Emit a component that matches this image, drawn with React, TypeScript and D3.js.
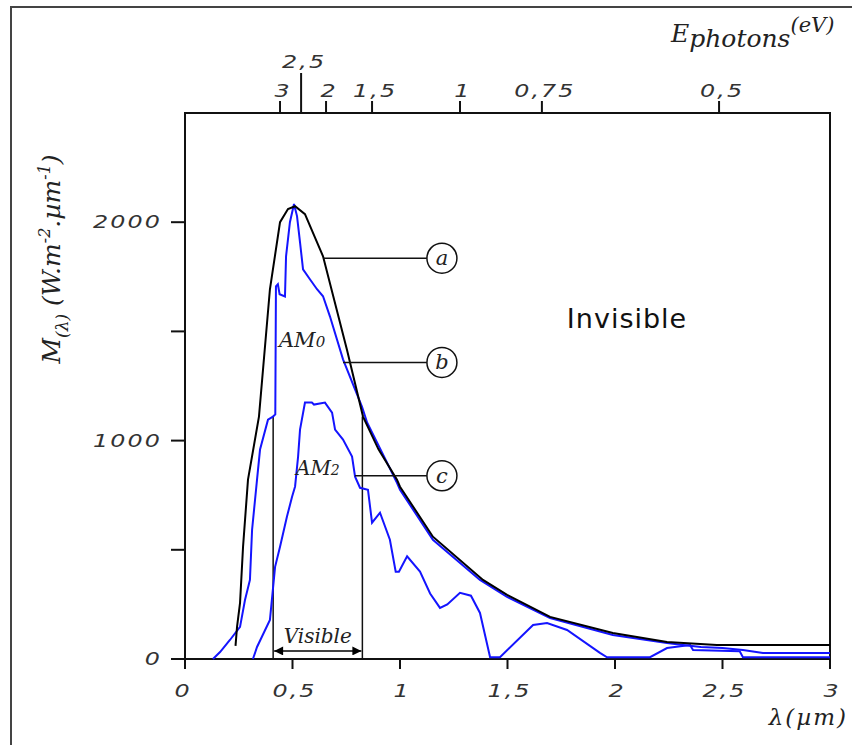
import React from "react";
import * as d3 from "d3";

// Curve (a): black body-like envelope
const lambdaA = [0.235, 0.242, 0.256, 0.27, 0.293, 0.344, 0.395, 0.442, 0.479, 0.512, 0.558, 0.642, 0.753, 0.828, 0.9, 0.986, 1.0, 1.153, 1.386, 1.498, 1.698, 1.99, 2.242, 2.474, 3.0];
const mA = [60, 147, 257, 514, 821, 1110, 1693, 2000, 2060, 2073, 2037, 1844, 1417, 1110, 960, 821, 789, 560, 362, 294, 193, 119, 78, 64, 64];

// Curve (b): AM0
const lambdaB = [0.13, 0.163, 0.209, 0.256, 0.279, 0.302, 0.312, 0.335, 0.349, 0.386, 0.409, 0.42, 0.423, 0.432, 0.44, 0.465, 0.47, 0.488, 0.507, 0.521, 0.535, 0.549, 0.581, 0.614, 0.642, 0.674, 0.735, 0.823, 0.847, 0.986, 1.0, 1.153, 1.372, 1.498, 1.698, 1.99, 2.242, 2.316, 2.4, 2.5, 2.595, 2.688, 3.0];
const mB = [0, 32, 87, 147, 270, 362, 592, 821, 959, 1096, 1110, 1120, 1706, 1716, 1670, 1660, 1844, 2000, 2083, 2028, 1908, 1784, 1739, 1693, 1661, 1569, 1372, 1156, 1083, 807, 775, 546, 362, 284, 188, 110, 73, 64, 55, 50, 41, 28, 28];

// Curve (c): AM2
const lambdaC = [0.316, 0.335, 0.395, 0.419, 0.442, 0.474, 0.498, 0.512, 0.526, 0.535, 0.558, 0.59, 0.6, 0.651, 0.684, 0.698, 0.735, 0.777, 0.791, 0.814, 0.851, 0.87, 0.907, 0.953, 0.98, 0.995, 1.033, 1.093, 1.14, 1.186, 1.22, 1.279, 1.33, 1.372, 1.419, 1.465, 1.619, 1.684, 1.777, 1.93, 1.963, 2.163, 2.242, 2.349, 2.363, 2.58, 2.595, 3.0];
const mC = [0, 55, 179, 422, 514, 651, 743, 790, 927, 1050, 1174, 1174, 1165, 1174, 1128, 1050, 1005, 927, 835, 784, 775, 624, 670, 546, 400, 400, 470, 400, 300, 234, 250, 303, 290, 211, 8, 8, 156, 165, 133, 28, 8, 8, 50, 64, 41, 35, 8, 8];

// Axes
const xTicks = [0, 0.5, 1, 1.5, 2, 2.5, 3];
const xTickLabels = ["0", "0,5", "1", "1,5", "2", "2,5", "3"];
const yTicks = [0, 500, 1000, 1500, 2000];
const yTickLabels = ["0", "", "1000", "", "2000"];
const energyLabels = ["3", "2,5", "2", "1,5", "1", "0,75", "0,5"];
const energyTickLambda = [0.442, 0.54, 0.656, 0.87, 1.279, 1.66, 2.484];

// Annotations
const visibleRange = [0.41, 0.825];
const visibleTop = 1110;
const calloutNames = ["a", "b", "c"];
const calloutFromLambda = [0.642, 0.735, 0.791];
const calloutM = [1835, 1358, 839];
const calloutCircleLambda = 1.195;

const tickFont: React.CSSProperties = {
  fontFamily: "DejaVu Sans",
  fontStyle: "italic",
  fontSize: 17,
  letterSpacing: 1.5,
};

function WideText(props: { x: number; y: number; anchor: string; children: string }) {
  return (
    <text
      transform={`translate(${props.x},${props.y}) scale(1.4,1)`}
      textAnchor={props.anchor}
      style={tickFont}
      fill="#333"
    >
      {props.children}
    </text>
  );
}

export default function App() {
  const x = d3.scaleLinear().domain([0, 3]).range([185, 830]);
  const y = d3.scaleLinear().domain([0, 2500]).range([659, 113]);
  const line = d3
    .line<[number, number]>()
    .x((d) => x(d[0]))
    .y((d) => y(d[1]));
  const zip = (a: number[], b: number[]) => a.map((v, i) => [v, b[i]] as [number, number]);

  const blue = "#1414ff";
  const serifIt = { fontFamily: "DejaVu Serif", fontStyle: "italic" as const };

  return (
    <svg
      width={852}
      height={745}
      style={{ position: "absolute", left: 0, top: 0, background: "#fff" }}
    >
      <defs>
        <marker id="arr" viewBox="0 0 10 10" refX="10" refY="5" markerWidth="11" markerHeight="9" orient="auto-start-reverse" markerUnits="userSpaceOnUse">
          <path d="M0,0 L10,5 L0,10 z" fill="#000" />
        </marker>
      </defs>
      {/* outer frame */}
      <path d="M11,745 V7 H852" fill="none" stroke="#444" strokeWidth={2} />

      {/* plot frame */}
      <rect x={x(0)} y={y(2500)} width={x(3) - x(0)} height={y(0) - y(2500)} fill="none" stroke="#111" strokeWidth={2} />

      {/* left ticks */}
      {yTicks.map((t, i) => (
        <g key={"y" + i}>
          <line x1={x(0) - 14} x2={x(0)} y1={y(t)} y2={y(t)} stroke="#111" strokeWidth={2} />
          {yTickLabels[i] && <WideText x={162} y={y(t) + 6} anchor="end">{yTickLabels[i]}</WideText>}
        </g>
      ))}

      {/* bottom ticks */}
      {xTicks.map((t, i) => (
        <g key={"x" + i}>
          <line x1={x(t)} x2={x(t)} y1={y(0)} y2={y(0) + 10} stroke="#111" strokeWidth={2} />
          <WideText x={x(t) - (i === 0 ? 4 : 0) + 2} y={697} anchor="middle">
            {xTickLabels[i]}
          </WideText>
        </g>
      ))}

      {/* top energy ticks */}
      {energyTickLambda.map((l, i) => (
        <g key={"e" + i}>
          <line x1={x(l)} x2={x(l)} y1={y(2500)} y2={y(2500) - (i === 1 ? 40 : 12)} stroke="#111" strokeWidth={2} />
          <WideText x={x(l) + 3} y={i === 1 ? 68 : 97} anchor="middle">
            {energyLabels[i]}
          </WideText>
        </g>
      ))}

      {/* axis titles */}
      <text x={671} y={42} style={serifIt} fontSize={25} fill="#222">
        E<tspan dy={5} fontSize={25}>photons</tspan>
        <tspan dy={-15} fontSize={21}>(eV)</tspan>
      </text>
      <text x={848} y={725} textAnchor="end" style={serifIt} fontSize={23} letterSpacing={2} fill="#222">
        λ(µm)
      </text>
      <text transform="translate(60,259) rotate(-90)" textAnchor="middle" style={serifIt} fontSize={25} fill="#222">
        M<tspan dy={8} fontSize={17}>(λ)</tspan>
        <tspan dy={-8}> (W.m</tspan>
        <tspan dy={-10} fontSize={16}>-2</tspan>
        <tspan dy={10}>.µm</tspan>
        <tspan dy={-10} fontSize={16}>-1</tspan>
        <tspan dy={10}>)</tspan>
      </text>

      {/* visible boundaries */}
      {visibleRange.map((l, i) => (
        <line key={"v" + i} x1={x(l)} x2={x(l)} y1={y(0)} y2={y(visibleTop)} stroke="#111" strokeWidth={1.5} />
      ))}
      <line
        x1={x(visibleRange[0]) + 1}
        x2={x(visibleRange[1]) - 1}
        y1={y(37)}
        y2={y(37)}
        stroke="#000"
        strokeWidth={1.5}
        markerStart="url(#arr)"
        markerEnd="url(#arr)"
      />
      <text x={x((visibleRange[0] + visibleRange[1]) / 2)} y={y(72)} textAnchor="middle" style={serifIt} fontSize={20} fill="#222">
        Visible
      </text>

      {/* curves */}
      <path d={line(zip(lambdaC, mC)) || ""} fill="none" stroke={blue} strokeWidth={2} />
      <path d={line(zip(lambdaB, mB)) || ""} fill="none" stroke={blue} strokeWidth={2} />
      <path d={line(zip(lambdaA, mA)) || ""} fill="none" stroke="#000" strokeWidth={2} />

      {/* callouts */}
      {calloutNames.map((n, i) => (
        <g key={n}>
          <line x1={x(calloutFromLambda[i])} x2={x(calloutCircleLambda) - 15} y1={y(calloutM[i])} y2={y(calloutM[i])} stroke="#111" strokeWidth={1.5} />
          <circle cx={x(calloutCircleLambda)} cy={y(calloutM[i])} r={15} fill="#fff" stroke="#111" strokeWidth={1.5} />
          <text x={x(calloutCircleLambda)} y={y(calloutM[i]) + 7} textAnchor="middle" style={serifIt} fontSize={21} fill="#222">
            {n}
          </text>
        </g>
      ))}

      {/* AM labels */}
      <text x={x(0.437)} y={y(1427)} style={serifIt} fontSize={21} fill="#222">
        AM<tspan fontSize={15}>0</tspan>
      </text>
      <text x={x(0.516)} y={y(844)} style={serifIt} fontSize={20} fill="#222">
        AM<tspan fontSize={14}>2</tspan>
      </text>

      <text x={x(2.056)} y={y(1516)} textAnchor="middle" fontFamily="DejaVu Sans" fontSize={27} letterSpacing={1} fill="#111">
        Invisible
      </text>
    </svg>
  );
}
